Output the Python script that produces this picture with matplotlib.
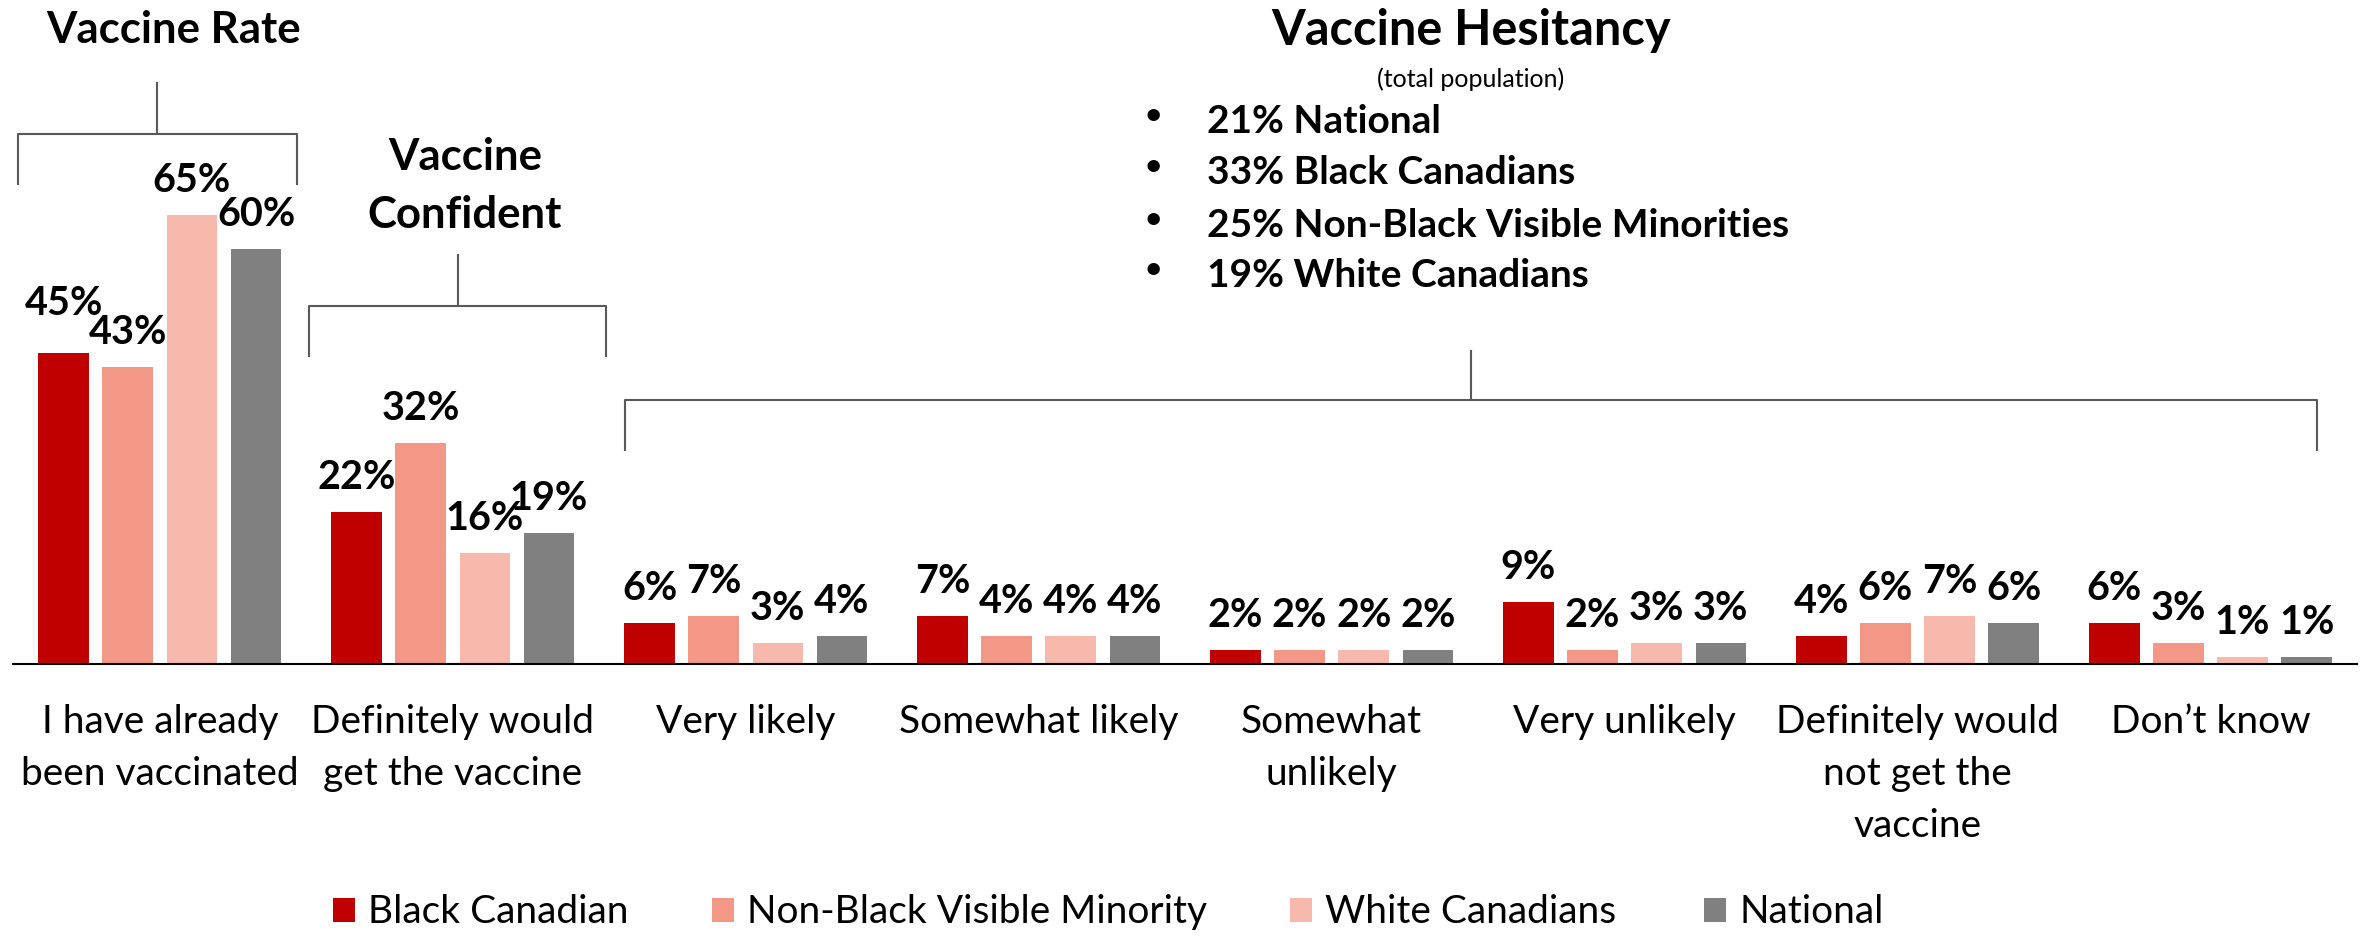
import matplotlib
matplotlib.use("Agg")
import matplotlib.pyplot as plt
from matplotlib.patches import Rectangle, Circle

plt.rcParams["font.family"] = ["Lato", "DejaVu Sans"]

# ---- data -------------------------------------------------------------
categories = [
    "I have already\nbeen vaccinated",
    "Definitely would\nget the vaccine",
    "Very likely",
    "Somewhat likely",
    "Somewhat\nunlikely",
    "Very unlikely",
    "Definitely would\nnot get the\nvaccine",
    "Don\u2019t know",
]
series_names = ["Black Canadian", "Non-Black Visible Minority", "White Canadians", "National"]
black_canadian = [45, 22, 6, 7, 2, 9, 4, 6]
non_black_vm = [43, 32, 7, 4, 2, 2, 6, 3]
white_canadians = [65, 16, 3, 4, 2, 3, 7, 1]
national = [60, 19, 4, 4, 2, 3, 6, 1]
hesitancy_lines = [
    "21% National",
    "33% Black Canadians",
    "25% Non-Black Visible Minorities",
    "19% White Canadians",
]

series = [black_canadian, non_black_vm, white_canadians, national]
colors = ["#C00000", "#F39887", "#F8B9AD", "#808080"]
bracket_color = "#595959"

# extra lift (points) for value labels that would crowd a neighbour: (series, category)
label_lift = {(0, 0): 11}

# ---- figure / axes ----------------------------------------------------
W, H, DPI = 2369, 937, 100
fig = plt.figure(figsize=(W / DPI, H / DPI), dpi=DPI)
base_px = 665.0
ax = fig.add_axes([13.4 / W, (H - base_px) / H, 2343.6 / W, base_px / H])
ax.set_xlim(-0.5, 7.5)
ax.set_ylim(0, base_px / 6.91)
for side in ("top", "left", "right"):
    ax.spines[side].set_visible(False)
ax.spines["bottom"].set_linewidth(1.5)
ax.spines["bottom"].set_color("black")
ax.set_xticks([])
ax.set_yticks([])
ax.patch.set_alpha(0)

bar_w = 0.173
step = 0.219
for k, (vals, col) in enumerate(zip(series, colors)):
    xs = [i + (k - 1.5) * step for i in range(len(categories))]
    ax.bar(xs, vals, width=bar_w, color=col, zorder=2)
    for i, (x, v) in enumerate(zip(xs, vals)):
        lift = label_lift.get((k, i), 0)
        ax.annotate(f"{v}%", (x, v), xytext=(0, 17.3 + lift), textcoords="offset points",
                    ha="center", va="baseline", fontsize=28.5, fontweight="bold",
                    annotation_clip=False)

# category labels, line by line below the baseline
for i, cat in enumerate(categories):
    for j, line in enumerate(cat.split("\n")):
        ax.annotate(line, (i, 0), xytext=(0, -49 - 37.4 * j), textcoords="offset points",
                    ha="center", va="baseline", fontsize=28, annotation_clip=False)


def bracket(x0, x1, y_top, y_leg, y_stem):
    xm = (x0 + x1) / 2
    kw = dict(color=bracket_color, lw=1.5, clip_on=False, solid_capstyle="butt")
    ax.plot([x0, x0, x1, x1], [y_leg, y_top, y_top, y_leg], **kw)
    ax.plot([xm, xm], [y_top, y_stem], **kw)


bracket(-0.485, 0.468, 76.7, 69.3, 84.2)
bracket(0.509, 1.523, 51.8, 44.4, 59.3)
bracket(1.589, 7.364, 38.2, 30.8, 45.5)

title_kw = dict(ha="center", va="baseline", fontweight="bold", clip_on=False)
ax.text(0.045, 90.0, "Vaccine Rate", fontsize=31.5, **title_kw)
ax.text(1.041, 71.6, "Vaccine", fontsize=31.5, **title_kw)
ax.text(1.041, 63.2, "Confident", fontsize=31.5, **title_kw)
ax.text(4.475, 89.7, "Vaccine Hesitancy", fontsize=35, **title_kw)
ax.text(4.474, 83.6, "(total population)", fontsize=18, ha="center", va="baseline", clip_on=False)

for y, line in zip([77.0, 69.6, 61.9, 54.7], hesitancy_lines):
    ax.text(3.391, y + 1.2, "\u2022", fontsize=24, ha="center", va="baseline", clip_on=False)
    ax.text(3.574, y, line, fontsize=28, fontweight="bold", ha="left", va="baseline", clip_on=False)

# ---- legend -----------------------------------------------------------
sq_x = [332.5, 712, 1290, 1704]
for x, name, col in zip(sq_x, series_names, colors):
    fig.add_artist(Rectangle((x / W, (H - 923) / H), 22 / W, 24 / H,
                             transform=fig.transFigure, color=col, lw=0))
    fig.text((x + 35) / W, (H - 923) / H, name, fontsize=28, ha="left", va="baseline")

# small orange mark at the top-left corner
fig.add_artist(Circle((8 / W, (H + 22) / H), 0.012, transform=fig.transFigure,
                      color="#F0A020", lw=0))

fig.savefig("out.png", dpi=DPI)
